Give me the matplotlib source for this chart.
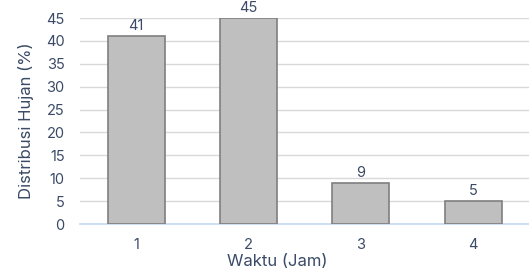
import matplotlib
matplotlib.use("Agg")
import matplotlib.pyplot as plt

categories = ["1", "2", "3", "4"]
values = [41, 45, 9, 5]
yticks = [0, 5, 10, 15, 20, 25, 30, 35, 40, 45]

txt = "#3b4a66"
plt.rcParams['font.family'] = ['Inter', 'DejaVu Sans']

fig = plt.figure(figsize=(5.29, 2.75), dpi=100)
ax = fig.add_axes([80/529, 1-224/275, (529.5-80)/529, 206/275])
x = list(range(1, len(categories)+1))
bars = ax.bar(x, values, width=0.507, color="#bfbfbf", edgecolor="#7f7f7f", linewidth=1.2, zorder=3)
for xi, v in zip(x, values):
    ax.text(xi, v + 0.7, str(v), ha="center", va="bottom", color=txt, fontsize=10.5)
ax.set_xlim(0.5, 4.5)
ax.set_ylim(0, 45)
ax.set_yticks(yticks)
ax.set_xticks(x)
ax.set_xticklabels(categories)
ax.tick_params(axis="both", length=0, colors=txt, labelsize=10.5)
ax.tick_params(axis="x", pad=10)
ax.tick_params(axis="y", pad=11)
ax.yaxis.grid(True, color="#d9d9d9", linewidth=1, zorder=0)
for s in ["top", "right", "left"]:
    ax.spines[s].set_visible(False)
ax.spines["bottom"].set_color("#c5d9f1")
ax.spines["bottom"].set_linewidth(1.2)
ax.set_ylabel("Distribusi Hujan (%)", color=txt, fontsize=12, va="center")
ax.yaxis.set_label_coords(-(80-26)/449.5, 0.5)
ax.set_xlabel("Waktu (Jam)", color=txt, fontsize=12, va="center")
ax.xaxis.set_label_coords((277-80)/449.5, -(262-224)/206)
fig.savefig("out.png", dpi=100)
